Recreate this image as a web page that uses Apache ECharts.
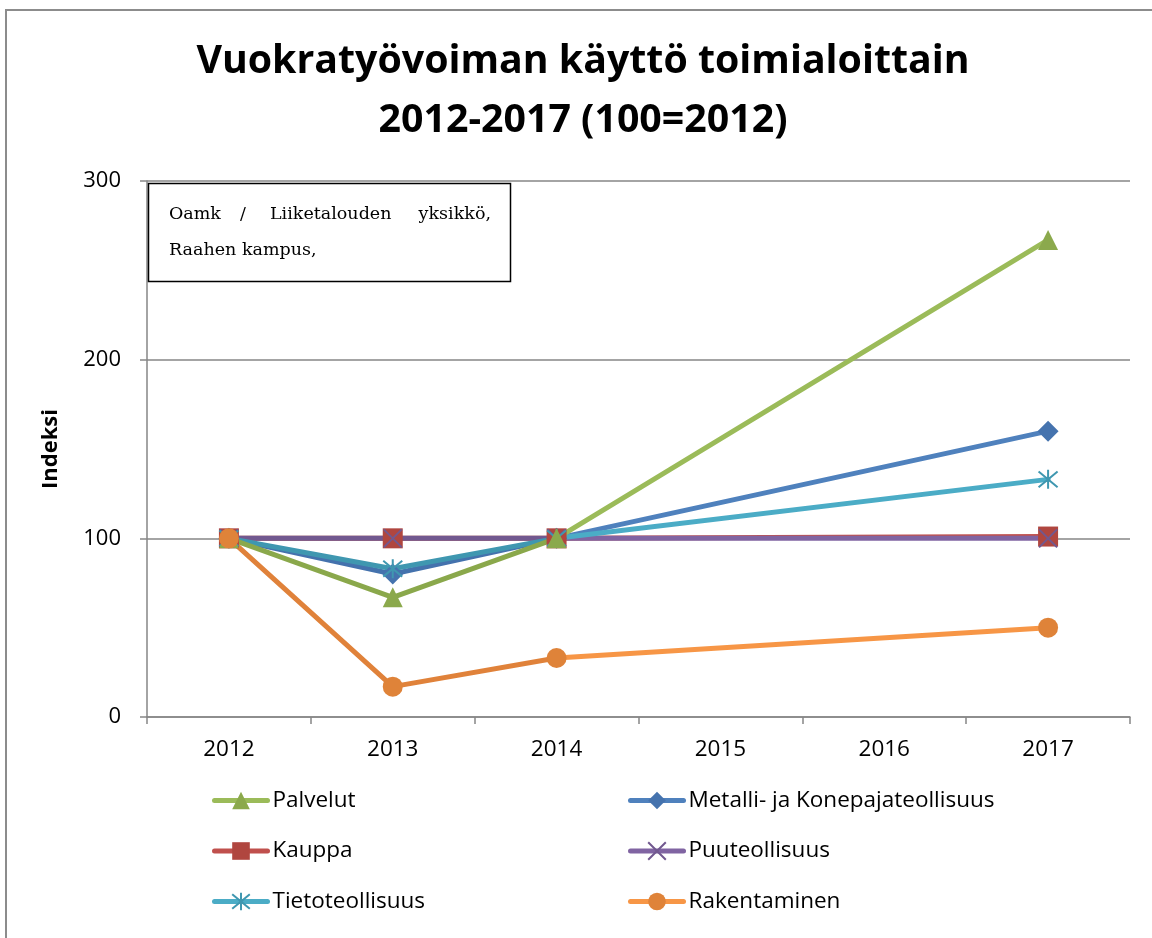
<!DOCTYPE html>
<html>
<head>
<meta charset="utf-8">
<script src="https://cdn.jsdelivr.net/npm/echarts@6/dist/echarts.min.js"></script>
<style>
html,body{margin:0;padding:0;background:#fff;}
#chart{width:1152px;height:938px;}
</style>
</head>
<body>
<div id="chart"></div>
<script>
// ---- data ----
var years = ['2012', '2013', '2014', '2015', '2016', '2017'];
var yTicks = [0, 100, 200, 300];
var palvelut = [100, 67, 100, null, null, 267];
var metalli = [100, 80, 100, null, null, 160];
var kauppa = [100, 100, 100, null, null, 101];
var puu = [100, 100, 100, null, null, 100];
var tieto = [100, 83, 100, null, null, 133];
var rakentaminen = [100, 17, 33, null, null, 50];
var seriesNames = ['Palvelut', 'Metalli- ja Konepajateollisuus', 'Kauppa', 'Puuteollisuus', 'Tietoteollisuus', 'Rakentaminen'];
var titleLines = ['Vuokratyövoiman käyttö toimialoittain', '2012-2017 (100=2012)'];
var yName = 'Indeksi';
var noteLine1 = ['Oamk', '/', 'Liiketalouden', 'yksikkö,'];
var noteLine2 = 'Raahen kampus,';

// ---- styling ----
var FONT = "'Open Sans', sans-serif";
var AX = '#868686';
var splitAt = 2 / (years.length - 1);
function grad(dark, light) {
  return new echarts.graphic.LinearGradient(0, 0, 1, 0, [
    {offset: 0, color: dark}, {offset: splitAt, color: dark},
    {offset: splitAt, color: light}, {offset: 1, color: light}
  ]);
}
var X_PATH = 'path://M0,0L20,20M20,0L0,20';
var STAR_PATH = 'path://M0,0L20,20M20,0L0,20M10,-2L10,22';

var styles = {
  'Palvelut': {data: palvelut, dark: '#8AA84B', light: '#9BBB59', marker: '#8BA94C', symbol: 'triangle', size: 20},
  'Metalli- ja Konepajateollisuus': {data: metalli, dark: '#4472AD', light: '#4F81BD', marker: '#4573AE', symbol: 'diamond', size: 21},
  'Kauppa': {data: kauppa, dark: '#B0463F', light: '#C0504D', marker: '#B0463F', symbol: 'rect', size: 20},
  'Puuteollisuus': {data: puu, dark: '#71588F', light: '#8064A2', marker: '#71588F', symbol: X_PATH, size: 18, stroke: true},
  'Tietoteollisuus': {data: tieto, dark: '#3F97B0', light: '#4BACC6', marker: '#3F97B0', symbol: STAR_PATH, size: 19, stroke: true},
  'Rakentaminen': {data: rakentaminen, dark: '#E0823A', light: '#F79646', marker: '#DF8339', symbol: 'circle', size: 20}
};
var drawOrder = ['Metalli- ja Konepajateollisuus', 'Kauppa', 'Puuteollisuus', 'Tietoteollisuus', 'Palvelut', 'Rakentaminen'];

var series = drawOrder.map(function (name) {
  var s = styles[name];
  var item = s.stroke
    ? {color: s.marker, borderColor: s.marker, borderWidth: 2}
    : {color: s.marker, borderWidth: 0};
  return {
    name: name,
    type: 'line',
    data: s.data,
    connectNulls: true,
    symbol: s.symbol,
    symbolSize: s.size,
    showAllSymbol: true,
    lineStyle: {width: 5, color: grad(s.dark, s.light), cap: 'round', join: 'round'},
    itemStyle: item,
    emphasis: {disabled: true},
    animation: false
  };
});

function legendData(names) {
  return names.map(function (n) {
    return {name: n, lineStyle: {color: styles[n].light, width: 5}};
  });
}

var legendCommon = {
  orient: 'vertical',
  top: 789,
  padding: 0,
  itemWidth: 53,
  itemHeight: 22,
  itemGap: 27.5,
  textStyle: {fontFamily: FONT, fontSize: 22.5, color: '#000', lineHeight: 23},
  selectedMode: false
};

var graphics = [
  {type: 'rect', shape: {x: 6, y: 10, width: 1200, height: 1000}, style: {fill: 'none', stroke: '#8C8C8C', lineWidth: 2}, silent: true, z: 100},
  {type: 'rect', shape: {x: 148.5, y: 183.5, width: 362, height: 98}, style: {fill: '#fff', stroke: '#000', lineWidth: 1.5}, z: 100}
];
var noteX = [169, 240, 270, 491];
noteLine1.forEach(function (w, i) {
  graphics.push({type: 'text', x: noteX[i], y: 214, z: 101,
    style: {text: w, fontFamily: "'DejaVu Serif', serif", fontSize: 17.5, fill: '#000',
      align: i === noteLine1.length - 1 ? 'right' : 'left', verticalAlign: 'middle'}});
});
graphics.push({type: 'text', x: 169, y: 250, z: 101,
  style: {text: noteLine2, fontFamily: "'DejaVu Serif', serif", fontSize: 17.5, fill: '#000', verticalAlign: 'middle'}});
titleLines.forEach(function (t, i) {
  graphics.push({type: 'text', x: 583, y: 62 + i * 59, z: 101,
    style: {text: t, fontFamily: FONT, fontWeight: 'bold', fontSize: 39.3, fill: '#000', align: 'center', verticalAlign: 'middle'}});
});

var chart = echarts.init(document.getElementById('chart'), null, {renderer: 'canvas'});
chart.setOption({
  backgroundColor: '#fff',
  animation: false,
  grid: {left: 147, right: 22, top: 181, bottom: 221, containLabel: false},
  xAxis: {
    type: 'category',
    data: years,
    boundaryGap: true,
    axisLine: {lineStyle: {color: AX, width: 1.5}},
    axisTick: {show: true, length: 7, lineStyle: {color: AX, width: 1.5}},
    axisLabel: {fontFamily: FONT, fontSize: 22.5, color: '#000', margin: 21}
  },
  yAxis: {
    type: 'value',
    min: yTicks[0],
    max: yTicks[yTicks.length - 1],
    interval: yTicks[1] - yTicks[0],
    name: yName,
    nameLocation: 'middle',
    nameGap: 85,
    nameRotate: 90,
    nameTextStyle: {fontFamily: FONT, fontSize: 22, fontWeight: 'bold', color: '#000'},
    axisLine: {show: true, lineStyle: {color: AX, width: 1.5}},
    axisTick: {show: true, length: 7, lineStyle: {color: AX, width: 1.5}},
    splitLine: {show: true, lineStyle: {color: AX, width: 1.5}},
    axisLabel: {fontFamily: FONT, fontSize: 22, color: '#000', margin: 26}
  },
  legend: [
    Object.assign({left: 212, data: legendData(['Palvelut', 'Kauppa', 'Tietoteollisuus'])}, legendCommon),
    Object.assign({left: 628, data: legendData(['Metalli- ja Konepajateollisuus', 'Puuteollisuus', 'Rakentaminen'])}, legendCommon)
  ],
  tooltip: {show: false},
  graphic: graphics,
  series: series
});
</script>
</body>
</html>
